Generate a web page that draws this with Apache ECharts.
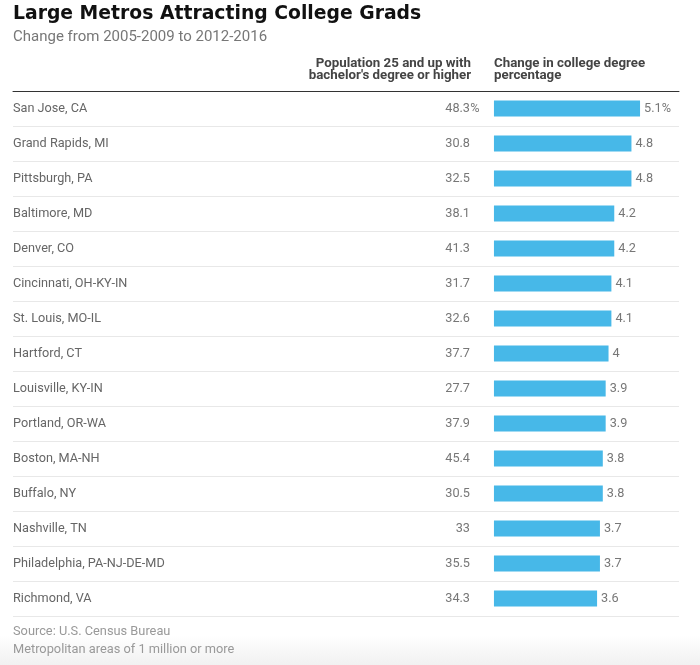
<!DOCTYPE html>
<html>
<head>
<meta charset="utf-8">
<script src="https://cdn.jsdelivr.net/npm/echarts@6/dist/echarts.min.js"></script>
<style>
html,body{margin:0;padding:0;}
body{background:linear-gradient(to bottom,#ffffff 0px,#ffffff 635px,#f1f1f1 665px);}
#chart{width:700px;height:665px;}
</style>
</head>
<body>
<div id="chart"></div>
<script>
const metros = ["San Jose, CA","Grand Rapids, MI","Pittsburgh, PA","Baltimore, MD","Denver, CO","Cincinnati, OH-KY-IN","St. Louis, MO-IL","Hartford, CT","Louisville, KY-IN","Portland, OR-WA","Boston, MA-NH","Buffalo, NY","Nashville, TN","Philadelphia, PA-NJ-DE-MD","Richmond, VA"];
const bachelorShare = ["48.3","30.8","32.5","38.1","41.3","31.7","32.6","37.7","27.7","37.9","45.4","30.5","33","35.5","34.3"];
const degreeChange = [5.1,4.8,4.8,4.2,4.2,4.1,4.1,4,3.9,3.9,3.8,3.8,3.7,3.7,3.6];

const FONT = "Roboto, 'Liberation Sans', sans-serif";
const chart = echarts.init(document.getElementById('chart'), null, {renderer:'canvas'});
chart.setOption({
  backgroundColor: 'transparent',
  animation: false,
  title: [
    {text: 'Large Metros Attracting College Grads', left: 13, top: 5, padding: 0,
     textStyle: {fontFamily: "'DejaVu Sans', sans-serif", fontWeight: 900, fontSize: 18.8, color: '#111'}},
    {text: 'Change from 2005-2009 to 2012-2016', left: 13, top: 30, padding: 0,
     textStyle: {fontFamily: FONT, fontWeight: 'normal', fontSize: 15, color: '#777'}}
  ],
  graphic: [
    {type: 'text', x: 471, y: 58,
     style: {text: "Population 25 and up with\nbachelor's degree or higher", font: "bold 13.3px " + FONT, fill: '#444', align: 'right', lineHeight: 12}},
    {type: 'text', x: 494, y: 58,
     style: {text: "Change in college degree\npercentage", font: "bold 13.3px " + FONT, fill: '#444', align: 'left', lineHeight: 12}},
    {type: 'text', x: 13, y: 625,
     style: {text: 'Source: U.S. Census Bureau', font: "12.8px " + FONT, fill: '#999'}},
    {type: 'text', x: 13, y: 643,
     style: {text: 'Metropolitan areas of 1 million or more', font: "12.8px " + FONT, fill: '#999'}}
  ],
  grid: {left: 13, top: 91, width: 666, height: 525, containLabel: false},
  xAxis: {
    type: 'value', position: 'top', min: -16.79, max: 6.46,
    axisLine: {show: true, onZero: false, lineStyle: {color: '#333', width: 1}},
    axisTick: {show: false}, axisLabel: {show: false}, splitLine: {show: false}
  },
  yAxis: [
    {
      type: 'category', data: metros, inverse: true,
      axisLine: {show: false}, axisTick: {show: false},
      axisLabel: {inside: true, margin: 0, align: 'left', fontFamily: FONT, fontSize: 12.7, color: '#666'},
      splitLine: {show: true, lineStyle: {color: '#e8e8e8', width: 1}}
    },
    {
      type: 'category', data: bachelorShare, inverse: true, position: 'left',
      axisLine: {show: false}, axisTick: {show: false}, splitLine: {show: false},
      axisLabel: {
        inside: true, margin: 467, align: 'right', fontFamily: FONT, fontSize: 12.7, color: '#777',
        formatter: function (v, i) { return '{a|' + v + '}{p|' + (i === 0 ? '%' : ' ') + '}'; },
        rich: {a: {fontFamily: FONT, fontSize: 12.7, color: '#777'},
               p: {fontFamily: FONT, fontSize: 12.7, color: '#777', width: 10, align: 'left'}}
      }
    }
  ],
  series: [{
    type: 'bar', yAxisIndex: 0, data: degreeChange, barWidth: 16,
    itemStyle: {color: '#47b8e8'},
    label: {show: true, position: 'right', distance: 4, fontFamily: FONT, fontSize: 12.7, color: '#777',
            formatter: function (p) { return p.dataIndex === 0 ? p.value + '%' : String(p.value); }}
  }]
});
</script>
</body>
</html>
